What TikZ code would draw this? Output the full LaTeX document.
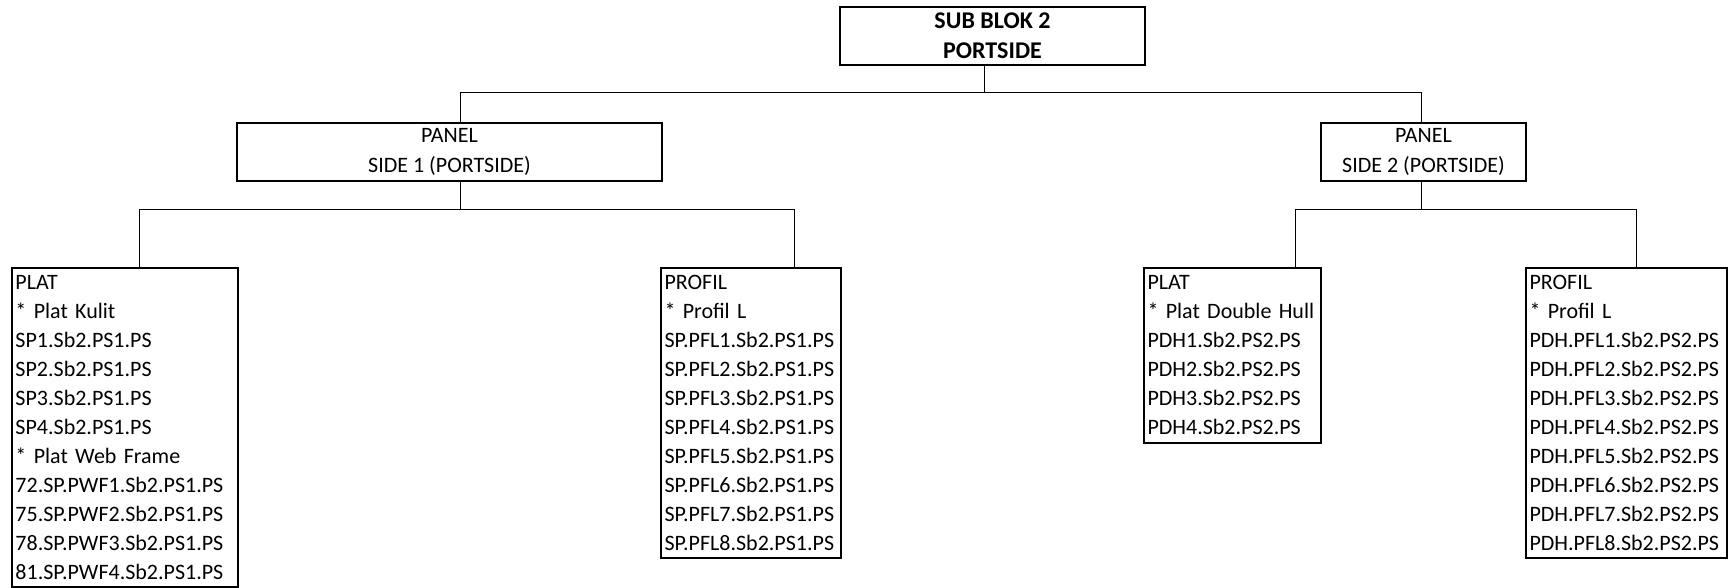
\documentclass[tikz,border=0pt]{standalone}
\usepackage{fontspec}
\setmainfont{Carlito}
\begin{document}
\begin{tikzpicture}[x=0.5pt,y=-0.5pt,
  box/.style={draw, line width=1pt, inner sep=0pt, outer sep=0pt, anchor=north west},
  cbox/.style={box, align=center, font=\fontsize{11pt}{15pt}\selectfont},
  lbox/.style={box, align=left, inner xsep=1.75pt, font=\fontsize{11pt}{14.5pt}\selectfont},
  conn/.style={line width=0.5pt}]
\useasboundingbox (0,0) rectangle (1731,588);
% boxes
\node[cbox, minimum width=152.5pt, minimum height=29pt, font=\bfseries\fontsize{12pt}{15pt}\selectfont] (top) at (840,7) {SUB BLOK 2\\PORTSIDE};
\node[cbox, minimum width=212.5pt, minimum height=29pt] (panel1) at (237,123) {PANEL\\SIDE 1 (PORTSIDE)};
\node[cbox, minimum width=102.5pt, minimum height=29pt] (panel2) at (1321,123) {PANEL\\SIDE 2 (PORTSIDE)};
\node[lbox, text width=109.5pt, minimum height=159.5pt] (plat1) at (12,268) {PLAT\\{*} Plat Kulit\\SP1.Sb2.PS1.PS\\SP2.Sb2.PS1.PS\\SP3.Sb2.PS1.PS\\SP4.Sb2.PS1.PS\\{*} Plat Web Frame\\72.SP.PWF1.Sb2.PS1.PS\\75.SP.PWF2.Sb2.PS1.PS\\78.SP.PWF3.Sb2.PS1.PS\\81.SP.PWF4.Sb2.PS1.PS};
\node[lbox, text width=86.5pt, minimum height=145pt] (profil1) at (661,268) {PROFIL\\{*} Profil L\\SP.PFL1.Sb2.PS1.PS\\SP.PFL2.Sb2.PS1.PS\\SP.PFL3.Sb2.PS1.PS\\SP.PFL4.Sb2.PS1.PS\\SP.PFL5.Sb2.PS1.PS\\SP.PFL6.Sb2.PS1.PS\\SP.PFL7.Sb2.PS1.PS\\SP.PFL8.Sb2.PS1.PS};
\node[lbox, text width=85pt, minimum height=87.5pt] (plat2) at (1144,268) {PLAT\\{*} Plat Double Hull\\PDH1.Sb2.PS2.PS\\PDH2.Sb2.PS2.PS\\PDH3.Sb2.PS2.PS\\PDH4.Sb2.PS2.PS};
\node[lbox, text width=97pt, minimum height=145pt] (profil2) at (1526,268) {PROFIL\\{*} Profil L\\PDH.PFL1.Sb2.PS2.PS\\PDH.PFL2.Sb2.PS2.PS\\PDH.PFL3.Sb2.PS2.PS\\PDH.PFL4.Sb2.PS2.PS\\PDH.PFL5.Sb2.PS2.PS\\PDH.PFL6.Sb2.PS2.PS\\PDH.PFL7.Sb2.PS2.PS\\PDH.PFL8.Sb2.PS2.PS};
% junctions
\coordinate (t0) at (984,93);
\coordinate (t1) at (460,93);
\coordinate (t2) at (1421,93);
\coordinate (l0) at (460,210);
\coordinate (l1) at (139,210);
\coordinate (l2) at (794,210);
\coordinate (r0) at (1421,210);
\coordinate (r1) at (1295,210);
\coordinate (r2) at (1636,210);
% connectors
\draw[conn] (top.south -| t0) -- (t0);
\draw[conn] (panel1.north -| t1) -- (t1) -- (t2) -- (panel2.north -| t2);
\draw[conn] (panel1.south -| l0) -- (l0);
\draw[conn] (plat1.north -| l1) -- (l1) -- (l2) -- (profil1.north -| l2);
\draw[conn] (panel2.south -| r0) -- (r0);
\draw[conn] (plat2.north -| r1) -- (r1) -- (r2) -- (profil2.north -| r2);
\end{tikzpicture}
\end{document}
